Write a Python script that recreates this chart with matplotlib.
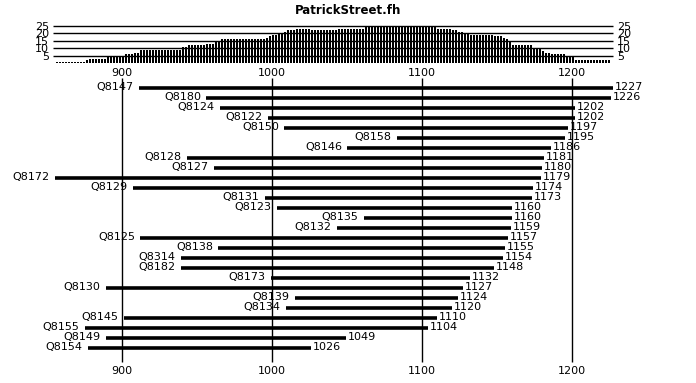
import matplotlib
matplotlib.use('Agg')
import matplotlib.pyplot as plt
import numpy as np

# Reads (top to bottom), sorted by end position
names = ['Q8147', 'Q8180', 'Q8124', 'Q8122', 'Q8150', 'Q8158', 'Q8146', 'Q8128', 'Q8127',
         'Q8172', 'Q8129', 'Q8131', 'Q8123', 'Q8135', 'Q8132', 'Q8125', 'Q8138', 'Q8314',
         'Q8182', 'Q8173', 'Q8130', 'Q8139', 'Q8134', 'Q8145', 'Q8155', 'Q8149', 'Q8154']
starts = [911, 956, 965, 997, 1008, 1083, 1050, 943, 961,
          855, 907, 995, 1003, 1061, 1043, 912, 964, 939,
          939, 999, 889, 1015, 1009, 901, 875, 889, 877]
ends = [1227, 1226, 1202, 1202, 1197, 1195, 1186, 1181, 1180,
        1179, 1174, 1173, 1160, 1160, 1159, 1157, 1155, 1154,
        1148, 1132, 1127, 1124, 1120, 1110, 1104, 1049, 1026]

xticks = [900, 1000, 1100, 1200]
depth_ticks = [5, 10, 15, 20, 25]

W, H = 696, 383
FS = 8


def px_to_val(px):
    # 900 sits at pixel 122, 1.5 px per base
    return 900 + (px - 122) / 1.5


fig = plt.figure(figsize=(W / 100, H / 100), dpi=100)

# main panel with the read lines
ax = fig.add_axes([0, 0, 1, 1])
ax.set_xlim(px_to_val(0), px_to_val(W))
ax.set_ylim(29.5, -8.8)
ax.axis('off')

ax.vlines(xticks, -1.0, 27.4, color='black', lw=1)
for t in xticks:
    ax.text(t, -1.55, str(t), ha='center', va='center', fontsize=FS)
    ax.text(t, 28.3, str(t), ha='center', va='center', fontsize=FS)

rows = np.arange(len(names))
ax.hlines(rows, starts, ends, color='black', lw=2.6, capstyle='butt')
for r, n, s, e in zip(rows, names, starts, ends):
    ax.text(s - 3.3, r - 0.1, n, ha='right', va='center', fontsize=FS)
    ax.text(e + 1.3, r - 0.1, str(e), ha='left', va='center', fontsize=FS)

# coverage histogram on top (one bar per 2 bases)
x0, x1 = px_to_val(53), px_to_val(613)
hax = fig.add_axes([53 / W, (H - 63.2) / H, 560 / W, 37.5 / H])
hax.set_xlim(x0, x1)
hax.set_ylim(0, 25)
lefts = np.arange(854, 1226, 2)
depth = [sum(1 for s, e in zip(starts, ends) if s <= c + 0.67 <= e) for c in lefts]
hax.bar(lefts, depth, width=4 / 3, align='edge', color='black', linewidth=0)
hax.hlines(depth_ticks, x0, x1, color='black', lw=1, clip_on=False)
hax.set_yticks(depth_ticks)
hax.set_xticks([])
hax.tick_params(axis='y', length=0, pad=3, labelsize=FS, labelleft=True, labelright=True)
for sp in hax.spines.values():
    sp.set_visible(False)
hax.patch.set_alpha(0)

fig.text(0.5, 1 - 10 / H, 'PatrickStreet.fh', ha='center', va='center',
         fontsize=8.5, fontweight='bold')

plt.savefig('out.png', dpi=100)
